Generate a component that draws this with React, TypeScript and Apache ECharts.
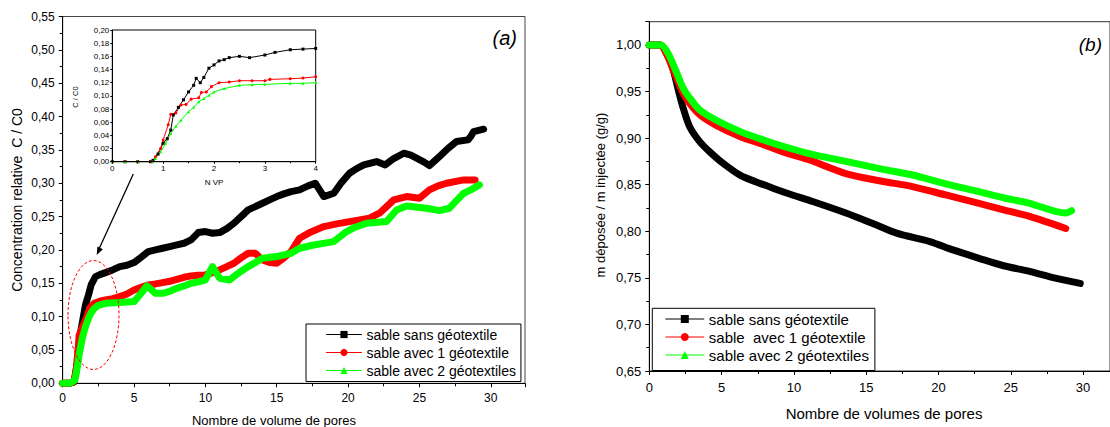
import React, { useEffect, useRef } from "react";
import * as echarts from "echarts";

// ---------- data (a) main chart ----------
const nameBlack = "sable sans géotextile";
const nameRedA = "sable avec 1 géotextile";
const nameRedB = "sable  avec 1 géotextile";
const nameGreen = "sable avec 2 géotextiles";

const aBlack: number[][] = [
  [0, 0], [0.5, 0], [0.8, 0.002], [1.0, 0.028], [1.1, 0.04], [1.2, 0.07], [1.4, 0.094], [1.6, 0.118],
  [1.8, 0.132], [2.0, 0.148], [2.3, 0.16], [2.6, 0.163], [3, 0.166], [3.5, 0.17], [4, 0.175], [4.5, 0.177],
  [5, 0.181], [5.5, 0.189], [6, 0.1975], [6.5, 0.2], [7, 0.2025], [7.5, 0.205], [8, 0.2075], [8.5, 0.21],
  [9, 0.215], [9.5, 0.226], [10, 0.2275], [10.5, 0.225], [11, 0.226], [11.5, 0.232], [12, 0.24], [12.5, 0.25],
  [13, 0.26], [13.5, 0.265], [14, 0.27], [14.5, 0.275], [15, 0.28], [15.5, 0.284], [16, 0.2875], [16.6, 0.29],
  [17.2, 0.296], [17.7, 0.3], [18.0, 0.29], [18.3, 0.28], [19, 0.285], [19.5, 0.3], [20.1, 0.315], [20.6, 0.322],
  [21.1, 0.3275], [22, 0.3325], [22.6, 0.3275], [23.2, 0.337], [23.9, 0.345], [24.4, 0.342], [24.8, 0.3375],
  [25.3, 0.332], [25.7, 0.3265], [26.4, 0.34], [27, 0.352], [27.6, 0.3625], [28.4, 0.365], [28.6, 0.37],
  [28.8, 0.3775], [29.5, 0.381]
];
const aRed: number[][] = [
  [0, 0], [0.5, 0], [0.8, 0.003], [0.95, 0.02], [1.0, 0.033], [1.1, 0.056], [1.15, 0.072], [1.3, 0.08],
  [1.5, 0.09], [1.7, 0.1], [1.9, 0.113], [2.2, 0.12], [2.6, 0.123], [3, 0.125], [3.5, 0.127], [4, 0.13],
  [4.5, 0.134], [5, 0.14], [5.5, 0.144], [6, 0.1475], [6.5, 0.149], [7, 0.151], [7.5, 0.153], [8, 0.156],
  [8.5, 0.159], [9, 0.161], [9.5, 0.162], [10, 0.1625], [10.5, 0.166], [11, 0.17], [11.5, 0.175], [12, 0.18],
  [12.5, 0.188], [13, 0.195], [13.5, 0.195], [14, 0.185], [14.5, 0.181], [15, 0.18], [15.5, 0.188], [16, 0.1975],
  [16.6, 0.2175], [17.4, 0.227], [18.3, 0.235], [19.2, 0.239], [20.1, 0.2425], [21.5, 0.2475], [22.2, 0.255],
  [22.7, 0.265], [23.2, 0.275], [24.1, 0.28], [25, 0.2775], [25.7, 0.29], [26.3, 0.296], [26.9, 0.3],
  [28.1, 0.305], [28.9, 0.305]
];
const aGreen: number[][] = [
  [0, 0], [0.5, 0], [0.85, 0.005], [0.95, 0.015], [1.05, 0.028], [1.15, 0.043], [1.25, 0.054], [1.4, 0.07],
  [1.6, 0.085], [1.8, 0.097], [2.0, 0.106], [2.2, 0.112], [2.5, 0.117], [3, 0.12], [4, 0.121], [5, 0.1225],
  [5.5, 0.135], [5.9, 0.146], [6.5, 0.135], [7, 0.135], [7.5, 0.138], [8, 0.1425], [8.5, 0.146], [9, 0.15],
  [9.5, 0.152], [10, 0.155], [10.5, 0.175], [11, 0.1575], [11.7, 0.155], [12, 0.16], [12.5, 0.168], [13, 0.175],
  [13.5, 0.181], [14, 0.1875], [15, 0.19], [16, 0.195], [16.6, 0.2025], [17.5, 0.207], [19, 0.2125],
  [19.9, 0.2275], [20.5, 0.234], [21.3, 0.24], [22.7, 0.2425], [23.4, 0.26], [24.1, 0.266], [25.5, 0.2625],
  [26.4, 0.259], [27.1, 0.2625], [27.6, 0.274], [28.1, 0.285], [28.6, 0.29], [29.2, 0.2975]
];

// ---------- data (a) inset ----------
const insetBlack: number[][] = [
  [0, 0], [0.25, 0], [0.5, 0], [0.75, 0], [0.8, 0.002], [0.9, 0.0116], [1.0, 0.028], [1.08, 0.035], [1.15, 0.048],
  [1.2, 0.071], [1.3, 0.0825], [1.4, 0.094], [1.5, 0.106], [1.6, 0.116], [1.65, 0.1266], [1.73, 0.12],
  [1.8, 0.128], [1.9, 0.142], [2.0, 0.147], [2.1, 0.153], [2.2, 0.155], [2.3, 0.158], [2.5, 0.16], [2.7, 0.158],
  [3.0, 0.162], [3.2, 0.166], [3.5, 0.17], [3.75, 0.171], [4.0, 0.172]
];
const insetRed: number[][] = [
  [0, 0], [0.25, 0], [0.5, 0], [0.78, 0], [0.85, 0.0076], [0.95, 0.02], [1.0, 0.033], [1.1, 0.056], [1.15, 0.072],
  [1.25, 0.074], [1.35, 0.086], [1.45, 0.087], [1.55, 0.095], [1.7, 0.097], [1.75, 0.105], [1.85, 0.106],
  [1.95, 0.114], [2.1, 0.12], [2.3, 0.121], [2.5, 0.123], [2.75, 0.123], [3.0, 0.123], [3.1, 0.125], [3.5, 0.126],
  [3.75, 0.127], [4.0, 0.129]
];
const insetGreen: number[][] = [
  [0, 0], [0.25, 0], [0.5, 0], [0.8, 0], [0.85, 0.005], [0.95, 0.015], [1.05, 0.028], [1.15, 0.043], [1.25, 0.054],
  [1.35, 0.063], [1.5, 0.076], [1.6, 0.0825], [1.7, 0.091], [1.8, 0.096], [1.9, 0.101], [2.0, 0.106],
  [2.2, 0.111], [2.5, 0.116], [2.75, 0.117], [3.0, 0.1175], [3.5, 0.119], [3.75, 0.119], [4.0, 0.12]
];

// ---------- data (b) ----------
const bBlack: number[][] = [
  [0, 1], [0.4, 1], [0.75, 1], [1.2, 0.991], [1.66, 0.973], [2.0, 0.952], [2.35, 0.932], [2.8, 0.912],
  [3.5, 0.896], [4.2, 0.885], [5.1, 0.873], [6.3, 0.86], [7.4, 0.853], [8.6, 0.846], [9.7, 0.84],
  [11.3, 0.832], [13.6, 0.8196], [15.5, 0.808], [17.1, 0.798], [19.4, 0.789], [21, 0.78], [22.8, 0.771],
  [24.5, 0.763], [26.3, 0.757], [28, 0.75], [29.8, 0.744]
];
const bRed: number[][] = [
  [0, 1], [0.4, 1], [0.75, 1], [1.2, 0.99], [1.9, 0.964], [2.35, 0.948], [2.8, 0.937], [3.5, 0.925],
  [4.6, 0.914], [6.3, 0.9016], [7.9, 0.893], [9.3, 0.885], [11, 0.877], [13.6, 0.862], [16, 0.854],
  [18.2, 0.848], [20.5, 0.839], [22.8, 0.83], [24.5, 0.823], [26.3, 0.816], [28.8, 0.803]
];
const bGreen: number[][] = [
  [0, 1], [0.4, 1], [0.8, 1], [1.3, 0.991], [1.9, 0.97], [2.35, 0.9535], [2.8, 0.943], [3.5, 0.93],
  [4.6, 0.9195], [6.3, 0.907], [7.9, 0.898], [9.3, 0.891], [10.9, 0.884], [13.6, 0.875], [16, 0.867],
  [18.2, 0.8604], [20.5, 0.851], [22.8, 0.8425], [24.5, 0.836], [26.3, 0.83], [28.8, 0.8196], [29.2, 0.822]
];

const FONT = "'Liberation Sans', Arial, sans-serif";
const BLACK = "#000000";
const RED = "#ff0000";
const GREEN = "#00ff00";

const fmt2 = (v: number) => {
  if (Math.abs(v * 20 - Math.round(v * 20)) > 1e-6) return "";
  return v.toFixed(2).replace(".", ",");
};
const fmtInset = (v: number) => {
  if (Math.abs(v * 50 - Math.round(v * 50)) > 1e-6) return "";
  return v.toFixed(2).replace(".", ",");
};
const fmtX5 = (v: number) => (Math.abs(v / 5 - Math.round(v / 5)) < 1e-6 ? String(Math.round(v)) : "");
const fmtX1 = (v: number) => (Math.abs(v - Math.round(v)) < 1e-6 ? String(Math.round(v)) : "");

export default function App() {
  const ref = useRef<HTMLDivElement>(null);
  useEffect(() => {
    if (!ref.current) return;
    const chart = echarts.init(ref.current, undefined, { renderer: "svg" });

    const axisLine = { show: true, lineStyle: { color: "#000", width: 1 } };
    const mainX = (gridIndex: number, max: number, fs: number, margin: number) => ({
      type: "value",
      gridIndex,
      min: 0,
      max,
      interval: 5,
      axisLine,
      axisTick: { show: true, length: 4, lineStyle: { color: "#000" } },
      minorTick: { show: true, splitNumber: 2, length: 3, lineStyle: { color: "#000" } },
      splitLine: { show: false },
      axisLabel: { formatter: fmtX5, fontSize: fs, color: "#000", fontFamily: FONT, margin, showMaxLabel: false },
    });
    const mainY = (gridIndex: number, min: number, max: number, fs: number) => ({
      type: "value",
      gridIndex,
      min,
      max,
      interval: 0.05,
      axisLine,
      axisTick: { show: true, length: 4, lineStyle: { color: "#000" } },
      minorTick: { show: true, splitNumber: 2, length: 3, lineStyle: { color: "#000" } },
      splitLine: { show: false },
      axisLabel: { formatter: fmt2, fontSize: fs, color: "#000", fontFamily: FONT, margin: 8 },
    });

    const thick = (name: string, data: number[][], color: string, symbol: string, xi: number, yi: number, smooth: number) => ({
      type: "line",
      name,
      data,
      xAxisIndex: xi,
      yAxisIndex: yi,
      symbol,
      symbolSize: 7,
      showSymbol: false,
      smooth,
      lineStyle: { color, width: 7, cap: "round", join: "round" },
      itemStyle: { color },
      z: 3,
    });
    const thin = (name: string, data: number[][], color: string, symbol: string) => ({
      type: "line",
      name,
      data,
      xAxisIndex: 2,
      yAxisIndex: 2,
      symbol,
      symbolSize: 3,
      showSymbol: true,
      lineStyle: { color, width: 1 },
      itemStyle: { color },
      z: 5,
    });

    const legendCommon = {
      orient: "vertical",
      backgroundColor: "#fff",
      borderColor: "#000",
      borderWidth: 1,
      borderRadius: 0,
      selectedMode: false,
      lineStyle: { width: 1 },
      textStyle: { fontFamily: FONT, color: "#000" },
    };

    chart.setOption({
      animation: false,
      backgroundColor: "#fff",
      textStyle: { fontFamily: FONT },
      grid: [
        { left: 62.7, right: 585, top: 16.5, bottom: 43.7, show: true, borderColor: "#444", borderWidth: 1, backgroundColor: "transparent" },
        { left: 649.3, right: -1, top: 21.7, bottom: 56, show: true, borderColor: "#333", borderWidth: 1, backgroundColor: "transparent" },
        { left: 112.3, top: 30, width: 203.4, height: 131.7, show: true, borderColor: "#000", borderWidth: 1, backgroundColor: "#fff", z: 4 },
      ],
      xAxis: [
        mainX(0, 32.4, 12, 9),
        mainX(1, 31.86, 13, 10),
        {
          type: "value",
          gridIndex: 2,
          min: 0,
          max: 4,
          interval: 1,
          axisLine,
          axisTick: { show: true, length: 2, lineStyle: { color: "#000" } },
          minorTick: { show: true, splitNumber: 2, length: 1.5, lineStyle: { color: "#000" } },
          splitLine: { show: false },
          axisLabel: { formatter: fmtX1, fontSize: 8, color: "#000", fontFamily: FONT, margin: 3 },
          z: 6,
        },
      ],
      yAxis: [
        mainY(0, 0, 0.55, 12),
        mainY(1, 0.65, 1.025, 13),
        {
          type: "value",
          gridIndex: 2,
          min: 0,
          max: 0.2,
          interval: 0.02,
          axisLine,
          axisTick: { show: true, length: 2, lineStyle: { color: "#000" } },
          minorTick: { show: false },
          splitLine: { show: false },
          axisLabel: { formatter: fmtInset, fontSize: 8, color: "#000", fontFamily: FONT, margin: 3 },
          z: 6,
        },
      ],
      legend: [
        {
          ...legendCommon,
          left: 306,
          top: 324,
          padding: [3.5, 5, 4, 20],
          itemWidth: 35,
          itemHeight: 9,
          itemGap: 4,
          textStyle: { ...legendCommon.textStyle, fontSize: 14 },
          data: [nameBlack, nameRedA, nameGreen],
        },
        {
          ...legendCommon,
          left: 652.3,
          top: 308.3,
          padding: [3.2, 6, 8, 13],
          itemWidth: 38,
          itemHeight: 10,
          itemGap: 3,
          textStyle: { ...legendCommon.textStyle, fontSize: 15 },
          data: [nameBlack, nameRedB, nameGreen],
        },
      ],
      series: [
        thick(nameBlack, aBlack, BLACK, "rect", 0, 0, 0),
        thick(nameRedA, aRed, RED, "circle", 0, 0, 0),
        thick(nameGreen, aGreen, GREEN, "triangle", 0, 0, 0),
        thin("inset sans", insetBlack, BLACK, "rect"),
        thin("inset 1", insetRed, RED, "circle"),
        thin("inset 2", insetGreen, GREEN, "triangle"),
        thick(nameBlack, bBlack, BLACK, "rect", 1, 1, 0.3),
        thick(nameRedB, bRed, RED, "circle", 1, 1, 0.3),
        thick(nameGreen, bGreen, GREEN, "triangle", 1, 1, 0.3),
      ],
      graphic: [
        {
          type: "text",
          x: 17,
          y: 200,
          rotation: Math.PI / 2,
          style: { text: "Concentration relative  C / C0", fontSize: 14, fontFamily: FONT, fill: "#000", align: "center", verticalAlign: "middle" },
        },
        {
          type: "text",
          x: 274,
          y: 420,
          style: { text: "Nombre de volume de pores", fontSize: 13, fontFamily: FONT, fill: "#000", align: "center", verticalAlign: "middle" },
        },
        {
          type: "text",
          x: 600,
          y: 195,
          rotation: Math.PI / 2,
          style: { text: "m déposée / m injectée (g/g)", fontSize: 13, fontFamily: FONT, fill: "#000", align: "center", verticalAlign: "middle" },
        },
        {
          type: "text",
          x: 884,
          y: 413,
          style: { text: "Nombre de volumes de pores", fontSize: 15, fontFamily: FONT, fill: "#000", align: "center", verticalAlign: "middle" },
        },
        {
          type: "text",
          x: 517,
          y: 38,
          style: { text: "(a)", fontSize: 20, fontStyle: "italic", fontFamily: FONT, fill: "#000", align: "right", verticalAlign: "middle" },
        },
        {
          type: "text",
          x: 1102,
          y: 44,
          style: { text: "(b)", fontSize: 19, fontStyle: "italic", fontFamily: FONT, fill: "#000", align: "right", verticalAlign: "middle" },
        },
        {
          type: "text",
          x: 75,
          y: 97,
          rotation: Math.PI / 2,
          z: 10,
          style: { text: "C / C0", fontSize: 7.5, fontFamily: FONT, fill: "#000", align: "center", verticalAlign: "middle" },
        },
        {
          type: "text",
          x: 214,
          y: 182,
          z: 10,
          style: { text: "N VP", fontSize: 8, fontFamily: FONT, fill: "#000", align: "center", verticalAlign: "middle" },
        },
        {
          type: "line",
          z: 10,
          shape: { x1: 133.3, y1: 174, x2: 99, y2: 249 },
          style: { stroke: "#000", lineWidth: 1.3 },
        },
        {
          type: "polygon",
          z: 10,
          shape: { points: [[96.7, 255], [102.9, 249.2], [97.4, 246.6]] },
          style: { fill: "#000" },
        },
        {
          type: "ellipse",
          z: 10,
          shape: { cx: 93.5, cy: 315, rx: 25.5, ry: 54.5 },
          style: { fill: "none", stroke: "#ff0000", lineWidth: 1, lineDash: [3, 2] },
        },
      ],
    });
    return () => chart.dispose();
  }, []);
  return (
    <div
      ref={ref}
      style={{ position: "fixed", left: 0, top: 0, width: 1110, height: 427, background: "#fff" }}
    />
  );
}
